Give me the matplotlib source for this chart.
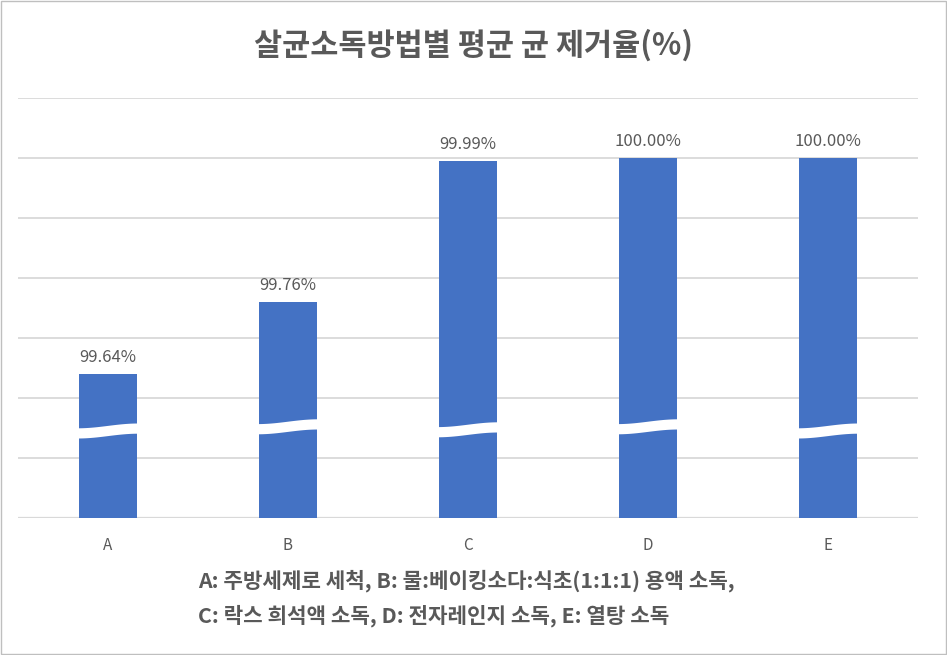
import numpy as np
import matplotlib.pyplot as plt
from matplotlib.patches import Polygon

plt.rcParams['font.family'] = ['Noto Sans CJK KR', 'DejaVu Sans']

# 데이터
categories = ['A', 'B', 'C', 'D', 'E']
removal_rate = [99.64, 99.76, 99.995, 100.00, 100.00]
value_labels = ['99.64%', '99.76%', '99.99%', '100.00%', '100.00%']
break_level = [99.545, 99.552, 99.547, 99.552, 99.545]

title = '살균소독방법별 평균 균 제거율(%)'
note_lines = ['A: 주방세제로 세척, B: 물:베이킹소다:식초(1:1:1) 용액 소독,',
              'C: 락스 희석액 소독, D: 전자레인지 소독, E: 열탕 소독']

BAR_COLOR = '#4472C4'
TEXT_COLOR = '#595959'
GRID_COLOR = '#D9D9D9'

fig = plt.figure(figsize=(9.47, 6.55), dpi=100)
ax = fig.add_axes([18 / 947, 137 / 655, 900 / 947, 420 / 655])

x = np.arange(len(categories))
width = 0.317
ax.bar(x, removal_rate, width=width, color=BAR_COLOR, zorder=2)

ax.set_xlim(-0.5, len(categories) - 0.5)
ax.set_ylim(99.4, 100.1)
ax.set_yticks(np.arange(99.4, 100.11, 0.1))
ax.set_yticklabels([])
ax.tick_params(axis='y', length=0)
ax.tick_params(axis='x', length=0, pad=14, labelsize=11, labelcolor=TEXT_COLOR)
ax.set_xticks(x)
ax.set_xticklabels(categories)
ax.grid(axis='y', color=GRID_COLOR, linewidth=1.3, zorder=0)
for s in ax.spines.values():
    s.set_visible(False)
ax.axhline(99.4, color=GRID_COLOR, linewidth=1.6, zorder=1)

# 물결 모양의 축 생략 표시
t = np.linspace(0, 1, 40)
wave = 0.004 * np.sin(np.pi * (t - 0.5))
gap = 0.0085
for xi, yb in zip(x, break_level):
    xs = xi - width / 2 - 0.01 + t * (width + 0.02)
    upper = yb + gap + wave
    lower = yb - gap + wave
    pts = np.column_stack([np.concatenate([xs, xs[::-1]]),
                           np.concatenate([upper, lower[::-1]])])
    ax.add_patch(Polygon(pts, closed=True, facecolor='white',
                         edgecolor='none', zorder=3))

for xi, v, lab in zip(x, removal_rate, value_labels):
    ax.annotate(lab, (xi, v), xytext=(0, 6), textcoords='offset points',
                ha='center', va='bottom', fontsize=12, color=TEXT_COLOR)

fig.text(0.5, 1 - 45 / 655, title, ha='center', va='center',
         fontsize=22, fontweight='bold', color=TEXT_COLOR)
fig.text(198 / 947, 1 - 581 / 655, note_lines[0], ha='left', va='center',
         fontsize=15.3, fontweight='bold', color=TEXT_COLOR)
fig.text(198 / 947, 1 - 616 / 655, note_lines[1], ha='left', va='center',
         fontsize=15.3, fontweight='bold', color=TEXT_COLOR)

fig.patches.append(plt.Rectangle((0.001, 0.001), 0.998, 0.998, transform=fig.transFigure,
                                 fill=False, edgecolor='#BFBFBF', linewidth=1))

fig.savefig('out.png', dpi=100)
